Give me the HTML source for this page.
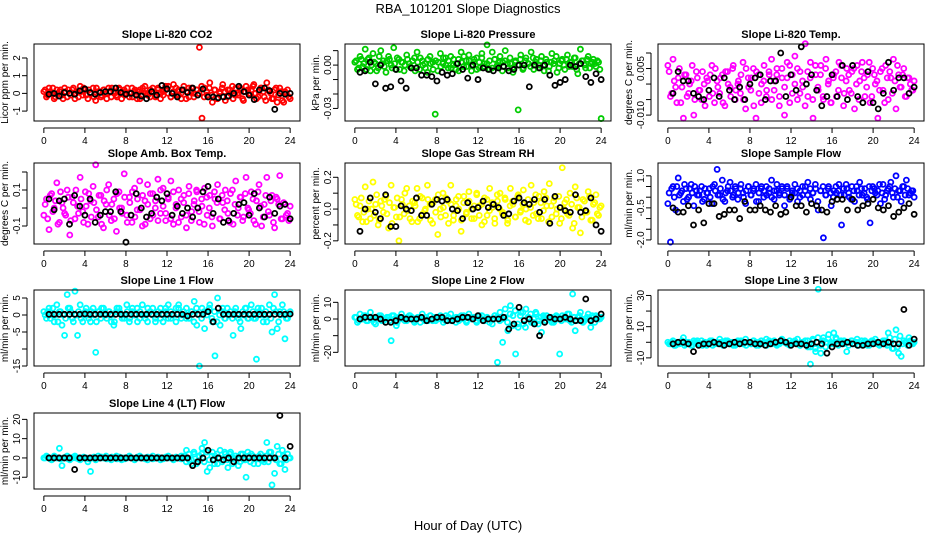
<!DOCTYPE html>
<html><head><meta charset="utf-8">
<style>
html,body{margin:0;padding:0;background:#fff;}
svg{display:block;font-family:"Liberation Sans",Arial,sans-serif;}
</style></head>
<body>
<svg id="chart" width="936" height="540" viewBox="0 0 936 540">
<text x="468" y="13" text-anchor="middle" font-size="13">RBA_101201  Slope Diagnostics</text>
<text x="468" y="530" text-anchor="middle" font-size="13">Hour of Day (UTC)</text>
</svg>
<script>
const xTicks = [0,4,8,12,16,20,24];
const co2Color = [0.1,-0.2,0.3,0.0,-0.3,0.2,0.1,-0.1,0.3,-0.2,0.0,0.2,-0.3,0.1,0.4,-0.1,0.2,-0.3,0.0,0.3,-0.4,0.1,-0.2,0.2,0.0,0.3,-0.2,0.1,-0.1,0.3,-0.3,0.2,0.0,-0.2,0.3,0.1,-0.3,0.2,-0.1,0.4,0.0,-0.2,0.3,-0.1,0.2,-0.3,0.1,0.4,0.0,-0.2,0.5,-0.1,0.2,-0.3,0.4,0.1,-0.2,0.3,0.0,0.2,2.6,-1.4,0.3,-0.1,0.6,-0.5,0.2,-0.3,0.1,0.5,-0.4,0.2,0.0,-0.3,0.3,-0.1,0.2,-0.4,0.4,0.0,0.2,0.5,-0.3,0.1,0.3,-0.2,0.6,0.1,-0.3,0.2,-0.5,0.3,-0.4,0.1,0.2,-0.3];
const co2Color2 = [0.2,-0.1,0.1,0.3,-0.2,0.0,0.2,-0.3,0.1,0.2,-0.1,0.3,0.0,-0.2,0.1,0.3,-0.1,0.2,0.0,-0.2,0.3,0.1,-0.1,0.2,-0.3,0.1,0.3,0.0,-0.2,0.2,0.1,-0.1,0.3,0.0,-0.2,0.2,0.1,-0.3,0.3,0.0,-0.1,0.2,0.1,-0.2,0.3,0.0,-0.1,0.2,0.4,-0.2,0.1,0.3,-0.1,0.0,0.2,-0.3,0.3,0.1,-0.2,0.2,0.0,0.4,-0.2,0.1,0.3,-0.1,0.2,-0.3,0.0,0.3,0.1,-0.2,0.2,0.4,-0.1,0.0,0.3,-0.3,0.1,0.2,-0.1,0.4,0.0,-0.2,0.3,0.1,-0.4,0.2,0.0,-0.3,0.3,-0.1,0.1,-0.5,0.0,-0.2];
const co2Black = [-0.05,0.0,-0.15,0.05,0.0,-0.05,0.15,0.25,0.05,-0.05,0.05,0.1,0.1,0.3,0.05,-0.05,0.0,-0.1,-0.15,-0.3,0.1,-0.1,0.45,0.25,0.0,-0.2,0.2,0.05,0.3,-0.1,0.25,-0.2,-0.2,-0.25,-0.2,-0.15,0.0,0.4,0.1,-0.1,-0.35,0.2,0.3,0.15,-0.9,0.0,-0.05,0.0];
const presColor = [0.002,-0.003,0.006,-0.001,0.011,0.004,-0.004,0.008,0.001,-0.002,0.010,0.003,-0.005,0.006,0.0,0.012,-0.003,0.004,0.002,-0.004,0.007,0.001,-0.002,0.005,0.009,-0.003,0.003,0.001,-0.005,0.006,0.002,-0.034,-0.004,0.008,0.001,0.005,-0.002,0.006,0.0,-0.003,0.004,0.009,-0.001,0.003,0.007,-0.004,0.002,0.005,-0.002,0.008,0.001,0.014,-0.003,0.009,0.004,-0.001,0.006,0.002,0.010,-0.002,0.001,-0.005,0.003,-0.031,0.007,-0.002,0.005,0.001,0.009,-0.003,0.004,0.0,0.006,-0.004,0.002,-0.001,0.008,0.003,-0.005,0.001,0.004,-0.003,0.007,0.002,-0.001,0.005,-0.006,0.011,0.003,-0.002,0.006,0.001,0.004,-0.001,0.002,-0.037];
const presColor2 = [0.003,-0.002,0.004,0.001,-0.003,0.005,0.0,0.002,-0.004,0.006,0.001,-0.001,0.003,0.004,-0.002,0.001,0.005,-0.003,0.002,0.0,0.004,-0.001,0.003,-0.004,0.002,0.005,0.0,-0.002,0.004,0.001,-0.003,0.003,0.002,-0.001,0.005,0.0,0.003,-0.002,0.004,0.001,-0.004,0.002,0.006,-0.001,0.003,0.0,0.004,-0.003,0.002,0.005,-0.001,0.001,0.003,-0.002,0.004,0.0,0.002,-0.004,0.003,0.001,0.005,-0.002,0.002,0.0,0.004,-0.003,0.003,0.001,-0.001,0.005,0.002,-0.002,0.003,0.0,0.004,-0.004,0.002,0.001,0.006,-0.002,0.003,0.0,0.004,-0.001,0.002,0.005,-0.003,0.001,0.003,0.0,0.004,-0.002,0.002,0.001,0.003,-0.003];
const presBlack = [-0.005,-0.004,0.002,-0.013,0.0,-0.016,-0.015,-0.003,-0.011,-0.016,-0.002,-0.002,-0.007,-0.007,-0.008,-0.011,-0.005,-0.007,-0.006,0.001,-0.003,-0.009,0.0,-0.010,-0.002,-0.003,-0.004,-0.002,-0.001,-0.004,-0.003,0.0,0.0,-0.015,0.0,-0.002,0.0,-0.007,-0.014,-0.012,-0.010,0.0,-0.001,0.001,-0.008,-0.012,-0.006,-0.010];
const tempColor = [0.006,-0.004,0.008,-0.001,0.002,-0.006,-0.011,0.003,-0.003,0.001,-0.010,0.004,-0.002,-0.005,0.0,0.002,-0.004,0.006,-0.006,0.001,-0.003,0.003,-0.007,0.004,-0.001,0.005,-0.005,0.0,-0.003,0.007,-0.008,0.002,-0.002,0.005,-0.011,0.003,-0.006,0.001,-0.004,0.004,0.008,-0.002,0.003,-0.007,0.005,-0.010,0.002,0.006,-0.003,0.009,-0.005,0.004,-0.001,0.013,-0.004,0.007,-0.011,0.003,-0.002,0.006,-0.005,0.008,0.001,-0.006,0.003,-0.004,0.007,0.002,-0.003,0.005,-0.002,0.004,-0.008,0.006,0.001,0.007,-0.004,0.003,-0.006,0.005,0.0,-0.011,0.004,-0.002,0.006,-0.005,0.002,0.008,-0.008,0.003,-0.001,0.005,-0.004,0.002,-0.002,0.001];
const tempColor2 = [0.004,-0.003,0.001,-0.006,0.005,-0.001,0.003,-0.004,0.0,0.006,-0.005,0.002,-0.002,0.004,-0.007,0.001,0.003,-0.003,0.005,-0.001,0.002,-0.006,0.004,0.0,-0.004,0.006,-0.002,0.001,0.003,-0.005,0.005,-0.001,0.002,-0.007,0.004,-0.003,0.0,0.006,-0.002,0.003,-0.005,0.001,0.005,-0.004,0.002,-0.001,0.007,-0.006,0.003,0.0,0.005,-0.003,0.001,-0.007,0.004,0.002,-0.005,0.006,-0.001,0.003,-0.004,0.005,0.0,-0.006,0.002,0.004,-0.002,0.006,-0.007,0.001,0.003,-0.003,0.005,0.0,-0.005,0.004,0.002,-0.001,0.007,-0.004,0.003,0.001,-0.002,0.005,-0.006,0.002,0.004,-0.003,0.001,0.006,-0.001,0.003,-0.004,0.002,0.0,-0.002];
const tempBlack = [-0.003,0.004,0.001,0.001,-0.003,-0.004,-0.005,-0.002,0.002,-0.004,0.002,-0.002,-0.005,-0.001,-0.005,0.0,0.002,0.003,-0.005,0.001,0.001,0.010,-0.004,0.003,-0.002,0.012,0.0,0.003,-0.002,-0.007,-0.004,0.003,-0.004,0.006,-0.005,0.006,-0.004,-0.006,0.004,-0.006,-0.008,-0.003,0.007,-0.002,0.002,0.002,-0.003,-0.001];
const boxColor = [-0.04,0.05,-0.12,0.08,0.0,0.14,-0.08,0.03,-0.03,0.10,-0.15,0.06,-0.06,0.01,0.17,-0.02,0.09,-0.09,0.04,0.12,0.24,-0.05,0.07,-0.11,0.02,0.13,-0.07,0.05,-0.13,0.09,0.0,0.19,-0.04,0.06,-0.08,0.11,-0.01,0.15,-0.10,0.04,0.13,-0.06,0.08,0.0,0.16,-0.03,0.11,-0.07,0.05,0.15,-0.09,0.02,0.10,-0.05,0.07,-0.11,0.12,-0.02,0.04,0.09,-0.08,0.01,0.11,-0.04,0.07,-0.10,0.05,0.13,-0.06,0.03,0.10,-0.03,0.08,-0.09,0.15,0.0,0.06,-0.05,0.17,-0.01,0.09,-0.07,0.04,0.13,-0.10,0.02,0.17,-0.04,0.07,-0.11,0.05,0.18,-0.06,0.02,-0.03,0.01];
const boxColor2 = [0.02,-0.06,0.07,-0.02,0.04,-0.09,0.09,0.0,-0.04,0.06,-0.07,0.03,0.10,-0.03,0.05,-0.08,0.01,0.08,-0.05,0.03,-0.01,0.07,-0.09,0.04,0.10,-0.04,0.02,-0.06,0.08,0.0,-0.03,0.06,-0.08,0.03,0.09,-0.05,0.05,-0.01,0.07,-0.09,0.02,0.08,-0.04,0.04,-0.07,0.10,0.01,-0.03,0.06,-0.06,0.09,0.0,-0.08,0.05,0.03,-0.04,0.08,-0.07,0.02,0.10,-0.02,0.05,-0.09,0.06,0.0,-0.05,0.09,0.03,-0.06,0.07,-0.01,0.04,-0.08,0.10,0.02,-0.04,0.06,-0.07,0.08,0.0,-0.03,0.05,-0.09,0.09,0.01,-0.05,0.07,-0.02,0.04,-0.08,0.06,0.02,-0.06,0.03,-0.04,-0.07];
const boxBlack = [0.05,-0.01,0.04,0.05,-0.09,0.07,0.01,-0.04,0.05,-0.08,-0.04,-0.02,-0.02,0.09,-0.02,-0.19,-0.04,0.08,0.0,-0.05,-0.03,0.06,0.04,0.08,-0.04,0.01,-0.03,0.0,-0.05,0.0,0.09,0.12,-0.03,0.05,-0.08,-0.07,-0.03,0.02,0.03,-0.04,0.08,0.0,-0.05,0.06,-0.03,0.01,0.02,-0.06];
const rhColor = [0.06,-0.04,0.02,-0.08,0.14,0.0,-0.06,0.17,0.03,-0.10,0.05,-0.02,0.08,-0.12,0.15,0.01,-0.05,-0.20,0.06,-0.03,0.13,0.02,-0.08,0.04,0.13,-0.06,0.07,-0.01,0.15,0.03,-0.09,0.06,-0.16,0.0,0.10,-0.04,0.05,0.15,-0.07,0.02,0.08,-0.14,0.04,-0.03,0.11,0.0,-0.06,0.09,0.02,-0.10,0.07,-0.04,0.13,0.01,-0.09,0.05,0.10,-0.02,0.06,-0.07,0.13,0.03,-0.05,0.09,-0.01,0.12,0.0,-0.08,0.15,0.04,-0.03,0.08,-0.06,0.11,0.02,0.16,-0.05,0.07,0.0,-0.09,0.26,0.04,-0.03,0.10,-0.12,0.14,0.01,-0.15,0.06,-0.02,0.11,-0.07,0.03,0.09,-0.04,0.02];
const rhColor2 = [0.03,-0.05,0.07,-0.02,-0.08,0.05,0.0,-0.04,0.09,-0.07,0.02,0.06,-0.03,0.04,-0.09,0.01,0.07,-0.05,0.03,0.10,-0.01,-0.06,0.05,0.02,-0.08,0.08,-0.03,0.0,0.06,-0.07,0.04,-0.02,0.09,-0.05,0.01,0.07,-0.09,0.03,-0.04,0.06,0.0,-0.07,0.08,-0.02,0.05,-0.06,0.02,0.10,-0.04,0.03,-0.08,0.06,-0.01,0.04,-0.06,0.09,0.0,-0.03,0.07,-0.09,0.02,0.05,-0.05,0.08,-0.02,0.03,-0.07,0.06,0.01,-0.04,0.09,-0.06,0.04,-0.01,0.07,-0.08,0.02,0.05,-0.03,0.08,-0.06,0.0,0.06,-0.04,0.03,-0.09,0.07,0.01,-0.05,0.05,-0.02,0.08,-0.07,0.04,-0.03,0.01];
const rhBlack = [-0.14,0.0,0.07,-0.02,-0.06,0.09,-0.11,-0.11,0.02,0.0,-0.01,0.07,-0.04,-0.04,0.03,0.06,0.05,0.06,0.0,-0.01,-0.06,0.04,0.0,0.01,0.05,0.01,0.03,0.01,-0.04,-0.03,0.05,0.07,0.04,0.03,0.06,-0.02,0.06,-0.09,0.08,0.01,-0.01,-0.02,0.09,-0.02,-0.01,0.07,-0.10,-0.14];
const sampleColor = [-0.3,-2.1,0.5,-0.6,0.9,0.2,-0.2,0.4,0.0,0.6,-0.4,0.3,0.1,0.5,-0.1,0.2,0.4,-0.3,0.6,1.3,0.1,0.8,-0.2,0.3,0.7,0.0,0.5,-0.1,0.4,0.2,-0.3,0.5,0.1,0.3,0.6,-0.2,0.4,0.0,0.5,0.2,0.8,-0.1,0.3,0.1,0.5,-0.4,0.4,0.0,0.2,0.6,-0.2,0.3,0.1,0.5,0.7,-0.1,0.2,0.4,-0.6,0.3,-1.9,0.1,0.5,-0.4,0.3,0.2,0.6,-1.3,0.1,0.4,0.0,0.5,-0.2,0.3,0.7,0.1,0.4,-0.1,-1.2,0.5,0.2,0.3,-0.3,0.6,0.1,0.4,0.7,0.0,1.0,0.3,-0.2,0.5,0.8,0.1,0.3,0.0];
const sampleColor2 = [0.2,0.4,0.0,0.5,0.1,0.3,0.6,-0.1,0.4,0.2,0.5,0.1,0.3,-0.2,0.4,0.2,0.0,0.5,0.3,0.1,0.4,-0.1,0.2,0.5,0.3,0.1,0.4,0.2,0.6,0.0,0.3,0.5,0.1,0.4,-0.2,0.2,0.5,0.3,0.1,0.4,0.0,0.3,0.6,0.2,0.4,0.1,0.5,-0.1,0.3,0.2,0.4,0.0,0.5,0.3,0.1,0.4,0.2,0.6,-0.2,0.3,0.5,0.1,0.4,0.2,0.0,0.5,0.3,0.1,0.4,0.6,0.2,-0.1,0.3,0.5,0.1,0.4,0.2,0.0,0.5,0.3,0.4,0.1,0.6,0.2,-0.1,0.3,0.5,0.2,0.4,0.0,0.3,0.5,0.1,0.4,0.2,0.3];
const sampleBlack = [-0.5,-0.7,-0.7,-0.4,-1.3,-0.6,-1.2,-0.3,-0.3,-0.9,-0.8,-0.6,-0.6,-1.0,-0.2,-0.6,-0.6,-0.4,-0.6,-0.7,-0.4,-0.8,-0.7,0.0,-0.4,-0.4,-0.7,-0.3,-0.4,-0.6,-0.7,-0.2,-0.1,-0.1,-0.6,-0.1,-0.6,-0.4,-0.3,-0.1,-0.5,-0.6,-0.4,-0.9,-0.7,-0.5,-0.3,-0.8];
const l1Color = [1,-1,2,0,-2,3,1,-3,-6,6,2,-1,7,-6,3,-2,1,0,-2,2,-11,1,-1,2,0,1,-2,-3,1,2,0,-1,3,-2,1,0,2,-1,3,0,-2,1,2,-1,0,2,-2,1,3,-1,0,2,3,-1,0,2,-1,1,4,-3,-15,2,-4,1,3,-2,-12,5,-3,2,-1,0,1,-6,2,-1,-4,0,2,-1,3,-1,-13,1,2,0,-2,3,-5,6,-4,1,3,-7,-1,1];
const l1Color2 = [0,1,-1,2,0,-2,1,0,-1,2,1,-2,0,1,-1,0,2,-1,1,0,-2,1,2,0,-1,1,0,-2,2,1,-1,0,1,-1,2,0,-2,1,0,-1,2,1,0,-2,1,-1,0,2,-1,1,0,-2,2,0,1,-1,0,1,-2,2,0,-1,1,0,2,-1,1,-2,0,1,-1,2,0,-1,1,0,-2,1,2,-1,0,1,-1,2,0,-2,1,0,-1,2,1,-2,0,1,-1,0];
const l1Black = [0.2,0.2,0.2,0.2,0.2,0.2,0.2,0.3,0.2,0.2,0.2,0.2,0.2,0.2,0.2,0.2,0.2,0.2,0.2,0.2,0.2,0.2,0.2,0.2,0.2,0.2,0.2,-0.3,0.2,0.2,0.2,1,-2,2,0.2,0.2,0.2,0.2,0.2,0.2,0.2,0.2,0.2,0.2,0.2,0.2,0.2,0.3];
const l2Color = [1,-2,3,0,2,-1,4,0,-3,1,2,-1,0,1,-13,2,-4,1,3,0,-1,2,1,-2,0,1,3,-1,0,2,-1,1,0,2,0,-1,1,3,0,-2,1,0,2,-1,3,0,1,-2,0,2,-1,1,0,-3,2,-26,4,-14,6,-7,8,2,-21,-5,4,-3,6,1,-2,0,3,-1,-8,1,2,0,-2,-1,1,-21,2,0,3,-1,15,-7,1,4,-2,0,3,-5,1,2,0,1];
const l2Color2 = [1,-1,0,2,-1,1,0,-2,1,2,-1,0,1,-1,2,0,-2,1,0,-1,1,2,0,-1,1,-2,0,1,-1,2,0,-1,1,0,-2,2,1,-1,0,1,-1,2,0,-2,1,0,1,-1,2,0,-1,1,-2,0,2,1,-1,0,1,-2,3,-4,5,-3,2,4,-5,1,3,-2,4,-3,1,2,-1,0,1,-2,2,0,-1,1,0,3,-2,1,-1,2,0,-1,1,0,2,-2,1,0];
const l2Black = [0,1,1,1,0,-2,-2,-1,1,0,0,0,1,-1,0,1,1,-1,-1,0,1,1,0,2,-1,0,0,0,1,-6,-3,7,-1,0,-3,-10,-2,1,0,0,1,0,-1,-1,12,-1,0,3];
const l3Color = [0,-1,1,-2,-1,0,3,-1,0,-2,1,0,-1,1,0,-2,0,1,-1,0,2,-1,0,1,-1,0,-2,1,0,-1,2,0,-1,1,0,-2,1,0,2,-1,0,1,-1,0,2,0,-1,1,-1,0,2,-2,0,1,-3,-14,1,-6,34,-7,3,0,5,-1,6,2,-1,0,1,-6,0,1,-1,2,0,-1,1,-2,0,1,2,0,-1,1,-1,6,0,-4,8,-7,-9,1,0,3,-1,0];
const l3Color2 = [-1,0,-2,0,-1,1,-2,0,-1,-2,0,1,-1,-2,0,-1,1,-2,0,-1,0,-2,1,-1,0,-2,-1,0,1,-1,-2,0,-1,1,-2,0,-1,0,-2,1,-1,0,-2,-1,1,0,-1,-2,0,1,-1,-2,0,-1,1,-3,2,-4,3,-2,1,-3,2,0,-1,3,-2,1,-1,0,-2,1,-1,0,-2,1,0,-1,-2,1,0,-1,-2,0,1,-2,3,-4,2,-3,4,-1,0,-2,1,-1];
const l3Black = [-1,0,0,-1,-6,-2,-1,-1,0,-1,-2,-1,0,-1,0,0,-1,-1,-2,-1,0,1,0,-2,-1,-1,-2,-1,0,-1,-7,-3,-1,-1,0,-1,-2,-2,-1,-1,0,-1,0,-1,-1,21,-2,2];
const l4Color = [0,1,0,-1,1,0,5,-4,0,1,-1,0,1,0,-1,0,0,-2,-7,0,-1,1,0,0,1,0,-1,0,1,0,-1,0,0,1,0,-1,0,1,0,0,-1,0,1,0,0,-1,0,0,1,0,-1,0,0,1,0,4,-1,-3,2,-2,1,5,8,-7,-5,3,1,-3,4,-1,2,-5,3,0,1,-4,2,-1,-10,1,2,-3,0,1,-1,-2,8,3,-14,-8,6,-3,4,-6,2,0];
const l4Color2 = [0,0.5,-0.5,0,0.5,0,-0.5,0,0.5,-0.5,0,0.5,0,-0.5,0,0.5,0,-0.5,0,0.5,-0.5,0,0.5,0,-0.5,0,0.5,0,-0.5,0.5,0,-0.5,0,0.5,0,-0.5,0.5,0,0,-0.5,0.5,0,-0.5,0,0.5,0,-0.5,0.5,0,0,-0.5,0.5,0,-0.5,1,-2,2,-1,3,-3,1,2,-2,3,-1,1,-3,2,0,-2,3,-1,2,-3,1,0,-2,2,-1,3,-2,1,0,-3,2,-1,1,-2,3,0,-1,2,-3,1,-1,0];
const l4Black = [0,0,0,0,0,-6,0,0,0,0,0,0,0,0,0,0,0,0,0,0,0,0,0,0,0,0,0,0,-4,-2,0,4,-1,0,-1,0,-2,0,0,0,0,0,0,0,0,22,0,6];

const co2Ticks=[-1,0,1,2], co2Labels=["-1","0","1","2"];
const presTicks=[0.01,0,-0.01,-0.02,-0.03], presLabels=["","0.00","","","-0.03"];
const tempTicks=[0.01,0.005,0,-0.005,-0.01], tempLabels=["","0.005","","","-0.010"];
const boxTicks=[0.2,0.1,0,-0.1], boxLabels=["","0.1","","-0.1"];
const rhTicks=[0.2,0.1,0,-0.1,-0.2], rhLabels=["0.2","","0.0","","-0.2"];
const sampleTicks=[1,0.5,0,-0.5,-1,-1.5,-2], sampleLabels=["1.0","","","-0.5","","","-2.0"];
const l1Ticks=[5,0,-5,-10,-15], l1Labels=["5","0","-5","","-15"];
const l2Ticks=[10,0,-10,-20], l2Labels=["10","0","","-20"];
const l3Ticks=[30,20,10,0,-10], l3Labels=["30","","10","","-10"];
const l4Ticks=[20,10,0,-10], l4Labels=["20","10","0","-10"];

const NS="http://www.w3.org/2000/svg";
const svg=document.getElementById('chart');
function mk(tag,attrs,parent){const e=document.createElementNS(NS,tag);for(const k in attrs)e.setAttribute(k,attrs[k]);(parent||svg).appendChild(e);return e;}

const panels=[
 {id:'co2',title:'Slope Li-820 CO2',ylab:'Licor ppm per min.',col:0,row:0,ymin:-1.56,ymax:2.79,color:'#ff0000',c:co2Color,c2:co2Color2,b:co2Black,t:co2Ticks,l:co2Labels},
 {id:'pressure',title:'Slope Li-820 Pressure',ylab:'kPa per min.',col:1,row:0,ymin:-0.0387,ymax:0.0146,color:'#00cc00',c:presColor,c2:presColor2,b:presBlack,t:presTicks,l:presLabels},
 {id:'temp',title:'Slope Li-820 Temp.',ylab:'degrees C per min.',col:2,row:0,ymin:-0.0119,ymax:0.0129,color:'#ff00ff',c:tempColor,c2:tempColor2,b:tempBlack,t:tempTicks,l:tempLabels},
 {id:'box-temp',title:'Slope Amb. Box Temp.',ylab:'degrees C per min.',col:0,row:1,ymin:-0.2,ymax:0.25,color:'#ff00ff',c:boxColor,c2:boxColor2,b:boxBlack,t:boxTicks,l:boxLabels},
 {id:'gas-rh',title:'Slope Gas Stream RH',ylab:'percent per min.',col:1,row:1,ymin:-0.22,ymax:0.29,color:'#ffff00',c:rhColor,c2:rhColor2,b:rhBlack,t:rhTicks,l:rhLabels},
 {id:'sample-flow',title:'Slope Sample Flow',ylab:'ml/min per min.',col:2,row:1,ymin:-2.19,ymax:1.6,color:'#0000ff',c:sampleColor,c2:sampleColor2,b:sampleBlack,t:sampleTicks,l:sampleLabels},
 {id:'line1-flow',title:'Slope Line 1 Flow',ylab:'ml/min per min.',col:0,row:2,ymin:-15,ymax:7.35,color:'#00ffff',c:l1Color,c2:l1Color2,b:l1Black,t:l1Ticks,l:l1Labels},
 {id:'line2-flow',title:'Slope Line 2 Flow',ylab:'ml/min per min.',col:1,row:2,ymin:-28.2,ymax:17.4,color:'#00ffff',c:l2Color,c2:l2Color2,b:l2Black,t:l2Ticks,l:l2Labels},
 {id:'line3-flow',title:'Slope Line 3 Flow',ylab:'ml/min per min.',col:2,row:2,ymin:-15.2,ymax:33.5,color:'#00ffff',c:l3Color,c2:l3Color2,b:l3Black,t:l3Ticks,l:l3Labels},
 {id:'line4-flow',title:'Slope Line 4 (LT) Flow',ylab:'ml/min per min.',col:0,row:3,ymin:-16.1,ymax:23.3,color:'#00ffff',c:l4Color,c2:l4Color2,b:l4Black,t:l4Ticks,l:l4Labels}
];
const cols=[[34,300],[345,611],[658,924]];
const rows=[[44,121],[163,244],[290,366],[413,489]];

panels.forEach(p=>{
  const [L,R]=cols[p.col],[T,B]=rows[p.row];
  const g=mk('g',{});
  
  
  const xs=h=>L+(h+0.96)/25.92*(R-L);
  const ys=v=>B-(v-p.ymin)/(p.ymax-p.ymin)*(B-T);
  const tt=mk('text',{x:(L+R)/2,y:T-6,'text-anchor':'middle','font-size':'11','font-weight':'bold'},g);
  tt.textContent=p.title;
  
  
  const n=p.c.length;
  p.c.forEach((v,i)=>{
    const c=mk('circle',{cx:xs(i*24/(n-1)),cy:ys(v),r:2.5,fill:'none',stroke:p.color,'stroke-width':1.8},g);
    
    
  });
  const n2=p.c2.length;
  p.c2.forEach((v,i)=>{
    const c=mk('circle',{cx:xs(0.125+i*23.75/(n2-1)),cy:ys(v),r:2.5,fill:'none',stroke:p.color,'stroke-width':1.8},g);
    
    
  });
  p.b.forEach((v,i)=>{
    const c=mk('circle',{cx:xs(0.5+i*0.5),cy:ys(v),r:2.5,fill:'none',stroke:'#000','stroke-width':1.8},g);
    
    
  });
  const box=mk('rect',{x:L,y:T,width:R-L,height:B-T,fill:'none',stroke:'#000','stroke-width':1},g);
  
  
  const xa=mk('g',{},g);
  
  
  mk('line',{x1:xs(0),x2:xs(24),y1:B+7,y2:B+7,stroke:'#000'},xa);
  xTicks.forEach(t=>{
    mk('line',{x1:xs(t),x2:xs(t),y1:B+7,y2:B+12,stroke:'#000'},xa);
    const tx=mk('text',{x:xs(t),y:B+23,'text-anchor':'middle','font-size':'10'},xa);
    tx.textContent=t;
  });
  const ya=mk('g',{},g);
  
  
  const yt=p.t.map(ys);
  mk('line',{x1:L-7,x2:L-7,y1:Math.min(...yt),y2:Math.max(...yt),stroke:'#000'},ya);
  p.t.forEach((t,i)=>{
    const y=ys(t);
    mk('line',{x1:L-12,x2:L-7,y1:y,y2:y,stroke:'#000'},ya);
    if(p.l[i]){
      const tx=mk('text',{x:L-14,y:y,'text-anchor':'middle','font-size':'10',transform:`rotate(-90 ${L-14} ${y})`},ya);
      tx.textContent=p.l[i];
    }
  });
  const yl=mk('text',{x:L-26,y:(T+B)/2,'text-anchor':'middle','font-size':'10',transform:`rotate(-90 ${L-26} ${(T+B)/2})`},g);
  yl.textContent=p.ylab;
  
  
});
</script>
</body></html>
